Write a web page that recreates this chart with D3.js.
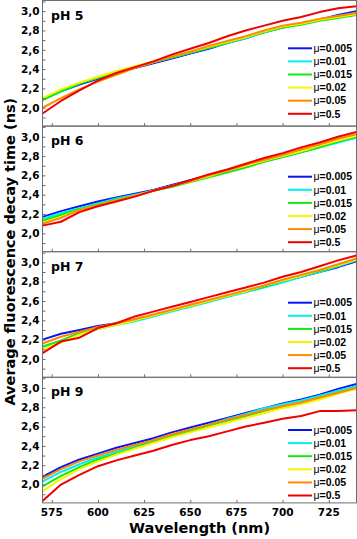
<!DOCTYPE html>
<html><head><meta charset="utf-8">
<script src="https://cdn.jsdelivr.net/npm/d3@7"></script>
<style>
html,body{margin:0;padding:0;background:#fff;}
svg{display:block;}
</style></head>
<body>
<svg id="chart" width="357" height="539"></svg>
<script>
const wavelengths = [570,580,590,600,610,620,630,640,650,660,670,680,690,700,710,720,730,740];
const seriesLabels = ["0.005","0.01","0.015","0.02","0.05","0.5"];
const seriesColors = ["#0a14f5","#00f0f0","#12e812","#f5f500","#ff8a00","#f00000"];
const panelTitles = ["pH 5","pH 6","pH 7","pH 9"];
const xTicks = [575,600,625,650,675,700,725];
const yTickLabels = [2.0,2.2,2.4,2.6,2.8,3.0];

// pH 5 : rows follow seriesLabels
const pH5 = [
  [2.09,2.17,2.24,2.30,2.36,2.41,2.46,2.51,2.56,2.61,2.67,2.72,2.78,2.83,2.87,2.91,2.96,3.00],
  [2.08,2.17,2.25,2.31,2.37,2.42,2.47,2.52,2.57,2.62,2.67,2.72,2.78,2.83,2.87,2.91,2.95,2.98],
  [2.08,2.17,2.25,2.31,2.37,2.42,2.47,2.52,2.57,2.62,2.67,2.73,2.78,2.83,2.86,2.90,2.93,2.96],
  [2.10,2.19,2.26,2.32,2.38,2.43,2.48,2.53,2.58,2.63,2.68,2.73,2.79,2.84,2.87,2.91,2.94,2.97],
  [2.00,2.10,2.19,2.27,2.34,2.41,2.47,2.53,2.58,2.64,2.69,2.74,2.80,2.85,2.88,2.92,2.95,2.98],
  [1.94,2.07,2.18,2.28,2.36,2.42,2.48,2.55,2.61,2.67,2.74,2.80,2.85,2.90,2.94,2.99,3.03,3.05]
];
// pH 6
const pH6 = [
  [2.17,2.23,2.28,2.33,2.37,2.41,2.45,2.50,2.55,2.60,2.65,2.70,2.76,2.81,2.86,2.91,2.96,3.02],
  [2.15,2.21,2.26,2.31,2.36,2.40,2.44,2.49,2.54,2.59,2.64,2.69,2.74,2.79,2.84,2.89,2.94,2.99],
  [2.13,2.19,2.25,2.30,2.35,2.39,2.44,2.48,2.53,2.58,2.63,2.68,2.74,2.79,2.84,2.89,2.95,3.00],
  [2.11,2.17,2.24,2.29,2.34,2.39,2.44,2.49,2.54,2.59,2.65,2.70,2.75,2.80,2.85,2.91,2.96,3.01],
  [2.10,2.16,2.24,2.29,2.34,2.39,2.44,2.49,2.54,2.60,2.65,2.71,2.76,2.81,2.87,2.92,2.98,3.03],
  [2.08,2.12,2.22,2.28,2.33,2.38,2.44,2.49,2.55,2.61,2.66,2.72,2.78,2.83,2.89,2.94,3.00,3.05]
];
// pH 7
const pH7 = [
  [2.20,2.26,2.30,2.34,2.37,2.41,2.45,2.50,2.55,2.60,2.65,2.70,2.75,2.80,2.85,2.90,2.95,3.01],
  [2.12,2.19,2.26,2.31,2.35,2.39,2.44,2.49,2.54,2.59,2.64,2.69,2.74,2.79,2.85,2.90,2.96,3.02],
  [2.13,2.19,2.27,2.32,2.36,2.40,2.45,2.50,2.55,2.60,2.65,2.70,2.75,2.81,2.86,2.91,2.97,3.03],
  [2.10,2.17,2.25,2.31,2.35,2.40,2.45,2.50,2.55,2.60,2.65,2.70,2.76,2.81,2.86,2.92,2.97,3.03],
  [2.16,2.23,2.28,2.33,2.37,2.41,2.46,2.51,2.56,2.61,2.66,2.71,2.76,2.82,2.87,2.92,2.98,3.04],
  [2.06,2.18,2.22,2.32,2.37,2.44,2.49,2.54,2.59,2.64,2.69,2.74,2.79,2.85,2.90,2.96,3.02,3.07]
];
// pH 9
const pH9 = [
  [2.08,2.18,2.26,2.32,2.38,2.43,2.48,2.54,2.59,2.64,2.69,2.74,2.79,2.84,2.88,2.93,2.99,3.04],
  [2.03,2.13,2.21,2.28,2.34,2.40,2.45,2.51,2.57,2.62,2.68,2.73,2.79,2.83,2.87,2.92,2.97,3.02],
  [1.98,2.09,2.18,2.26,2.32,2.38,2.44,2.50,2.55,2.61,2.66,2.71,2.76,2.81,2.85,2.90,2.95,3.00],
  [1.93,2.06,2.16,2.24,2.31,2.37,2.43,2.49,2.54,2.59,2.64,2.69,2.74,2.79,2.83,2.88,2.94,2.99],
  [2.06,2.16,2.24,2.30,2.36,2.41,2.46,2.52,2.57,2.62,2.67,2.72,2.77,2.81,2.85,2.90,2.95,3.00],
  [1.83,2.00,2.10,2.19,2.25,2.30,2.35,2.41,2.46,2.50,2.55,2.60,2.64,2.68,2.71,2.76,2.76,2.77]
];
const panelData = [pH5, pH6, pH7, pH9];

// ---- layout ----
const left = 42.5, right = 356.5;
const panelH = 125.6, firstTop = 0.5;
const legendTop = [47.8, 50.6, 51.0, 52.7];
const legendStep = 13.1;
const BOLD = "'DejaVu Sans', sans-serif";
const axisColor = "#6e6e6e";

const svg = d3.select("#chart");
const x = d3.scaleLinear().domain([570, 740]).range([left, right]);

panelData.forEach((rows, i) => {
  const top = firstTop + i * panelH;
  const bottom = top + panelH;
  const y = d3.scaleLinear().domain([1.81, 3.11]).range([bottom, top]);
  const g = svg.append("g");

  // lines
  const line = d3.line().x((d, k) => x(wavelengths[k])).y(d => y(d));
  rows.forEach((vals, s) => {
    g.append("path").datum(vals)
      .attr("d", line)
      .attr("fill", "none")
      .attr("stroke", seriesColors[s])
      .attr("stroke-width", 2)
      .attr("stroke-linejoin", "round");
  });

  // frame
  g.append("rect").attr("x", left).attr("y", top)
    .attr("width", right - left).attr("height", panelH)
    .attr("fill", "none").attr("stroke", axisColor).attr("stroke-width", 1);

  // y axis: minor ticks inward, labels
  const yAxis = d3.axisRight(y).tickValues(d3.range(1.9, 3.11, 0.1)).tickSize(3).tickFormat("");
  const ya = g.append("g").attr("transform", `translate(${left},0)`).call(yAxis);
  ya.select(".domain").remove();
  ya.selectAll("line").attr("stroke", axisColor);
  g.selectAll(".ylab").data(yTickLabels).enter().append("text")
    .attr("x", left - 3).attr("y", d => y(d)).attr("dy", "0.36em")
    .attr("text-anchor", "end")
    .style("font-family", BOLD).style("font-weight", "bold").style("font-size", "10.5px")
    .text(d => d3.format(".1f")(d).replace(".", ","));

  // x axis ticks inward
  const xAxis = d3.axisTop(x).tickValues(xTicks).tickSize(3).tickFormat("");
  const xa = g.append("g").attr("transform", `translate(0,${bottom})`).call(xAxis);
  xa.select(".domain").remove();
  xa.selectAll("line").attr("stroke", axisColor);

  // panel title
  g.append("text").attr("x", 51).attr("y", top + 19)
    .style("font-family", BOLD).style("font-weight", "bold").style("font-size", "12.5px")
    .text(panelTitles[i]);

  // legend
  seriesLabels.forEach((lab, s) => {
    const ly = top + legendTop[i] + s * legendStep;
    g.append("line").attr("x1", 288).attr("x2", 312).attr("y1", ly).attr("y2", ly)
      .attr("stroke", seriesColors[s]).attr("stroke-width", 2);
    const t = g.append("text").attr("x", 313.5).attr("y", ly).attr("dy", "0.36em")
      .style("font-family", "'Liberation Sans', Arial, sans-serif").style("font-size", "10.5px");
    t.append("tspan").style("font-weight", "normal").text("\u03bc");
    t.append("tspan").style("font-weight", "bold").text("=" + lab);
  });
});

// x tick labels at bottom
const lastBottom = firstTop + 4 * panelH;
svg.selectAll(".xlab").data(xTicks).enter().append("text")
  .attr("x", d => x(d)).attr("y", lastBottom + 13)
  .attr("text-anchor", "middle")
  .style("font-family", BOLD).style("font-weight", "bold").style("font-size", "10.5px")
  .text(d => d);

// axis titles
svg.append("text").attr("x", (left + right) / 2).attr("y", 533)
  .attr("text-anchor", "middle")
  .style("font-family", BOLD).style("font-weight", "bold").style("font-size", "14.5px")
  .text("Wavelength (nm)");
svg.append("text").attr("transform", `translate(14.5,${(firstTop + lastBottom) / 2}) rotate(-90)`)
  .attr("text-anchor", "middle")
  .style("font-family", BOLD).style("font-weight", "bold").style("font-size", "14.5px")
  .text("Average fluorescence decay time (ns)");
</script>
</body></html>
